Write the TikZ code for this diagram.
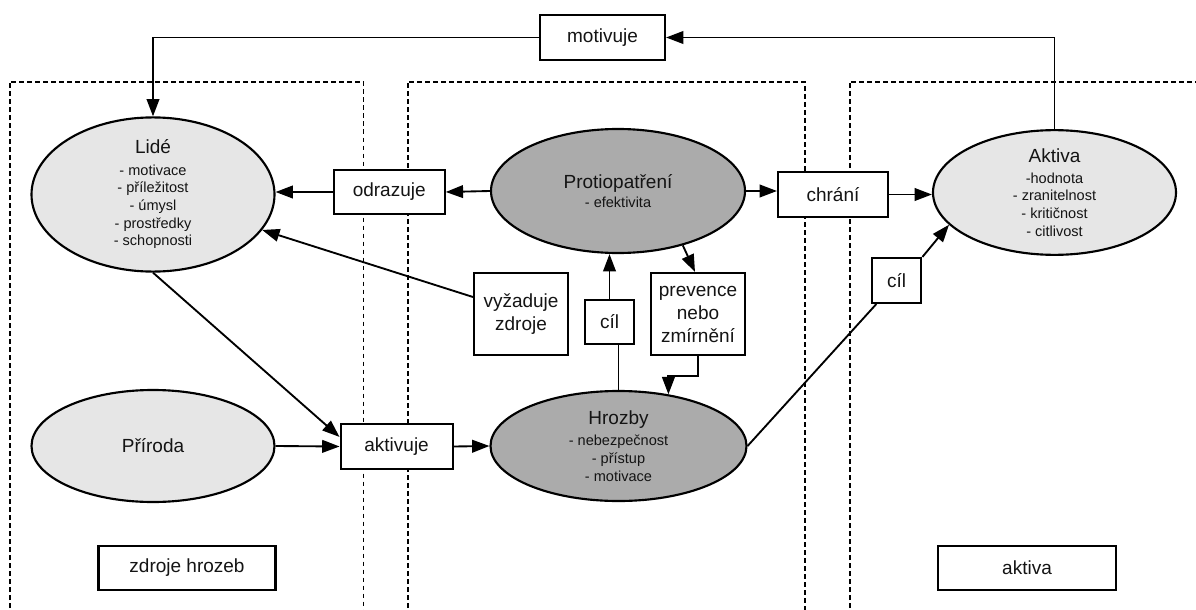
\documentclass[tikz,border=0pt]{standalone}
\usepackage{fontspec}
\setmainfont{Liberation Sans}
\usetikzlibrary{arrows.meta,shapes.geometric}
\definecolor{lightfill}{HTML}{E6E6E6}
\definecolor{darkfill}{HTML}{ABABAB}
\definecolor{ink}{HTML}{141414}
\newcommand\dlbl{\fontsize{14.25}{17.25}\selectfont}
\newcommand\dsml{\fontsize{10.9}{13.3}\selectfont}
\tikzset{
  box/.style={draw, fill=white, rectangle, line width=1.6pt, inner sep=0pt, font=\dlbl, align=center, text=ink},
  ell/.style={draw, ellipse, line width=1.6pt, inner sep=0pt, align=center, font=\dsml, text=ink},
  light/.style={ell, fill=lightfill},
  dark/.style={ell, fill=darkfill},
  con/.style={line width=1.4pt},
  arr/.style={line width=1.4pt, -{Triangle[length=13pt,width=9.5pt]}},
  region/.style={line width=1.4pt, dash pattern=on 3.5pt off 2.5pt},
}
\begin{document}
\begin{tikzpicture}[x=0.75pt,y=-0.75pt]
\useasboundingbox (0,0) rectangle (1196,610);
\clip (0,0) rectangle (1196,610);
\fill[white] (0,0) rectangle (1196,610);

% regions
\draw[region] (9.6,640) -- (9.6,81.7) -- (363.5,81.7) -- (363.5,640);
\draw[region] (407.6,640) -- (407.6,81.7) -- (805,81.7) -- (805,640);
\draw[region] (849.7,640) -- (849.7,81.7) -- (1220,81.7);

% ellipses
\node[light, minimum width=182.25pt, minimum height=95.25pt] (lide) at (153,194.5)
  {{\dlbl Lidé}\\[2.5pt]- motivace\\- příležitost\\- úmysl\\- prostředky\\- schopnosti};
\node[light, minimum width=182.25pt, minimum height=84pt] (priroda) at (153,446)
  {{\dlbl Příroda}};
\node[dark, minimum width=190.5pt, minimum height=93pt] (prot) at (618,191)
  {{\dlbl Protiopatření}\\[1.5pt]- efektivita};
\node[dark, minimum width=192pt, minimum height=82.5pt] (hrozby) at (618.5,446)
  {{\dlbl Hrozby}\\[2.5pt]- nebezpečnost\\- přístup\\- motivace};
\node[light, minimum width=182.25pt, minimum height=80.25pt] (aktiva) at (1054.5,192.5)
  {{\dlbl Aktiva}\\[2.5pt]-hodnota\\- zranitelnost\\- kritičnost\\- citlivost};

% boxes
\node[box, minimum width=93.75pt, minimum height=33.75pt] (motivuje) at (602.5,37.5) {motivuje};
\node[box, minimum width=83.25pt, minimum height=33pt] (odrazuje) at (389.2,192) {odrazuje};
\node[box, minimum width=82.5pt, minimum height=33.75pt] (chrani) at (833,194.5) {chrání};
\node[box, minimum width=84pt, minimum height=33.75pt] (aktivuje) at (396.6,446.5) {aktivuje};
\node[box, minimum width=70.5pt, minimum height=61.5pt] (vyzaduje) at (521,314) {vyžaduje\\zdroje};
\node[box, minimum width=36.75pt, minimum height=33pt] (cilmid) at (609.5,322) {cíl};
\node[box, minimum width=70.5pt, minimum height=61.5pt] (prevence) at (698,314) {prevence\\nebo\\zmírnění};
\node[box, minimum width=37pt, minimum height=33.75pt] (cilr) at (896.7,280.5) {cíl};
\node[box, minimum width=132.75pt, minimum height=33pt] (zdroje) at (187,568) {zdroje hrozeb};
\node[box, minimum width=133pt, minimum height=33pt] (aktivabox) at (1027,568) {aktiva};

% connectors
\draw[arr] (aktiva.north) |- (motivuje.east);
\draw[arr] (motivuje.west) -| (lide.north);
\draw[arr] (prot.west) -- (odrazuje.east);
\draw[arr] (odrazuje.west) -- (odrazuje.west -| lide.east);
\draw[arr] (prot.east) -- (prot.east -| chrani.west);
\draw[arr] (chrani.east) -- (chrani.east -| aktiva.west);
\draw[arr] ([yshift=12.75pt]vyzaduje.west) -- (lide.-18);
\draw[arr] (lide.south) -- ([yshift=-10.5pt]aktivuje.north west);
\draw[arr] (priroda.east) -- (aktivuje.west);
\draw[arr] (aktivuje.east) -- (hrozby.west);
\draw[con] (hrozby.north) -- (hrozby.north |- cilmid.south);
\draw[arr] (cilmid.north) -- (cilmid.north |- prot.south);
\draw[arr] (prot.-40) -- ([xshift=-2.25pt]prevence.north);
\draw[arr] (prevence.south) -- ([yshift=-15pt]prevence.south) -| (hrozby.46);
\draw[con] (hrozby.east) -- ([xshift=4pt]cilr.south west);
\draw[arr] (cilr.north east) -- (aktiva.197);
\end{tikzpicture}
\end{document}
